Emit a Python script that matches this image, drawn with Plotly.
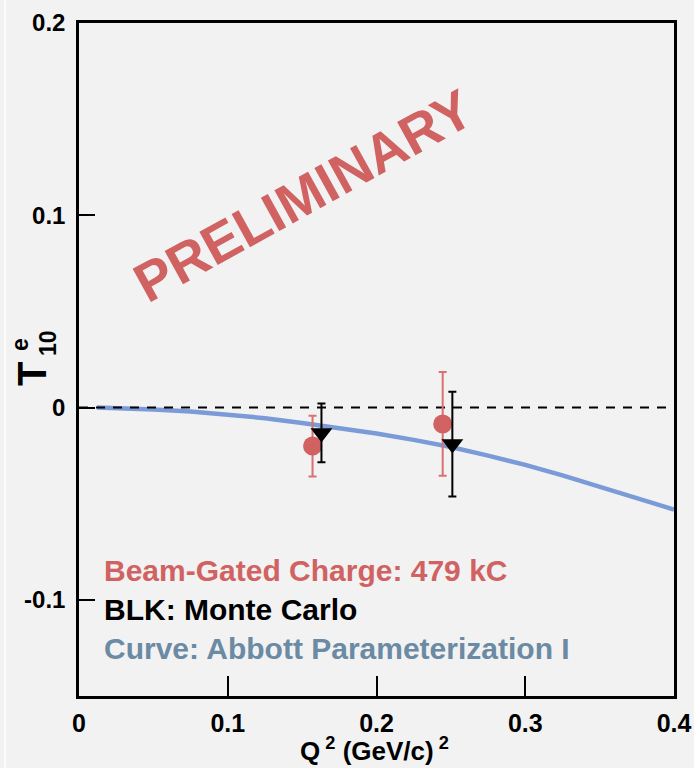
import plotly.graph_objects as go

# ---------------- data ----------------
data_q2 = [0.157, 0.2445]
data_t10 = [-0.020, -0.0085]
data_err = [0.0158, 0.027]

mc_q2 = [0.163, 0.251]
mc_t10 = [-0.0132, -0.019]
mc_err = [0.0153, 0.0272]

curve_q2 = [0.012, 0.03, 0.05, 0.075, 0.1, 0.125, 0.15, 0.175, 0.2, 0.225, 0.25,
            0.275, 0.3, 0.325, 0.35, 0.375, 0.4]
curve_t10 = [0.0, -0.0003, -0.001, -0.002, -0.0035, -0.0055, -0.008, -0.0105, -0.0135,
             -0.0168, -0.0205, -0.0250, -0.0298, -0.0353, -0.0410, -0.0468, -0.0530]

zero_q2 = [0.0, 0.4]
zero_t10 = [0.0, 0.0]

x_ticks = [0, 0.1, 0.2, 0.3, 0.4]
x_ticklabels = ["0", "0.1", "0.2", "0.3", "0.4"]
y_ticks = [-0.1, 0, 0.1, 0.2]
y_ticklabels = ["-0.1", "0", "0.1", "0.2"]

# ---------------- layout geometry ----------------
W, H = 694, 768
L, R, T, B = 79, 20, 23, 72
PW, PH = W - L - R, H - T - B

def px(x):
    return (x - L) / PW

def py(y):
    return (H - B - y) / PH

RED = "#d06262"
RED_ERR = "#db7070"
BLUE = "#7b9ad8"
SLATE = "#6b8aa3"
FONT = "Liberation Sans, Arial, sans-serif"

fig = go.Figure()

fig.add_trace(go.Scatter(x=curve_q2, y=curve_t10, mode="lines",
                         line=dict(color=BLUE, width=4.5), hoverinfo="skip"))
fig.add_trace(go.Scatter(x=zero_q2, y=zero_t10, mode="lines",
                         line=dict(color="black", width=2, dash="9px,8px"), hoverinfo="skip"))
fig.add_trace(go.Scatter(x=data_q2, y=data_t10, mode="markers",
                         marker=dict(symbol="circle", size=19, color=RED),
                         error_y=dict(type="data", array=data_err, color=RED_ERR,
                                      thickness=2, width=4)))
fig.add_trace(go.Scatter(x=mc_q2, y=mc_t10, mode="markers",
                         marker=dict(symbol="triangle-down", size=19, color="black"),
                         error_y=dict(type="data", array=mc_err, color="black",
                                      thickness=2, width=4)))

ann = []
# PRELIMINARY watermark
ann.append(dict(text="<b>PRELIMINARY</b>", x=px(303), y=py(196), xref="paper", yref="paper",
                showarrow=False, textangle=-29, xanchor="center", yanchor="middle",
                font=dict(family=FONT, size=55, color=RED)))
# legend texts
for txt, col, yc in [("Beam-Gated Charge: 479 kC", RED, 570),
                     ("BLK: Monte Carlo", "black", 609),
                     ("Curve: Abbott Parameterization I", SLATE, 648)]:
    ann.append(dict(text="<b>" + txt + "</b>", x=px(102), y=py(yc), xref="paper", yref="paper",
                    showarrow=False, xanchor="left", yanchor="middle",
                    font=dict(family=FONT, size=30, color=col)))
# x-axis title
ann.append(dict(text="<b>Q<sup> 2</sup> (GeV/c)<sup> 2</sup></b>", x=px(374), y=py(749),
                xref="paper", yref="paper", showarrow=False, xanchor="center", yanchor="middle",
                font=dict(family=FONT, size=26, color="black")))
# y-axis title T^e_10
ann.append(dict(text="<b>T</b>", x=px(32), y=py(374), xref="paper", yref="paper",
                showarrow=False, textangle=-90, xanchor="center", yanchor="middle",
                font=dict(family=FONT, size=40, color="black")))
ann.append(dict(text="<b>e</b>", x=px(20), y=py(345), xref="paper", yref="paper",
                showarrow=False, textangle=-90, xanchor="center", yanchor="middle",
                font=dict(family=FONT, size=23, color="black")))
ann.append(dict(text="<b>10</b>", x=px(48), y=py(343), xref="paper", yref="paper",
                showarrow=False, textangle=-90, xanchor="center", yanchor="middle",
                font=dict(family=FONT, size=23, color="black")))

fig.update_layout(
    width=W, height=H, autosize=False,
    margin=dict(l=L, r=R, t=T, b=B, pad=0, autoexpand=False),
    paper_bgcolor="#f2f2f2", plot_bgcolor="#f2f2f2",
    showlegend=False,
    annotations=ann,
    shapes=[dict(type="line", xref="paper", yref="paper", x0=px(5), x1=px(5), y0=py(0), y1=py(768),
                 line=dict(color="#fbfbfb", width=2))],
)
fig.update_xaxes(range=[0, 0.4], tickmode="array", tickvals=x_ticks, ticktext=x_ticklabels,
                 ticks="inside", ticklen=20, tickwidth=2, tickcolor="black",
                 showline=True, linecolor="black", linewidth=2.5, mirror=True,
                 showgrid=False, zeroline=False, automargin=False,
                 tickfont=dict(family=FONT, size=25, color="black", weight="bold"),
                 ticklabelstandoff=3)
fig.update_yaxes(range=[-0.15, 0.2], tickmode="array", tickvals=y_ticks, ticktext=y_ticklabels,
                 ticks="inside", ticklen=16, tickwidth=2, tickcolor="black",
                 showline=True, linecolor="black", linewidth=2.5, mirror=True,
                 showgrid=False, zeroline=False, automargin=False,
                 tickfont=dict(family=FONT, size=24, color="black", weight="bold"),
                 ticklabelstandoff=6)

fig.write_html("out.html", config={"responsive": False})
